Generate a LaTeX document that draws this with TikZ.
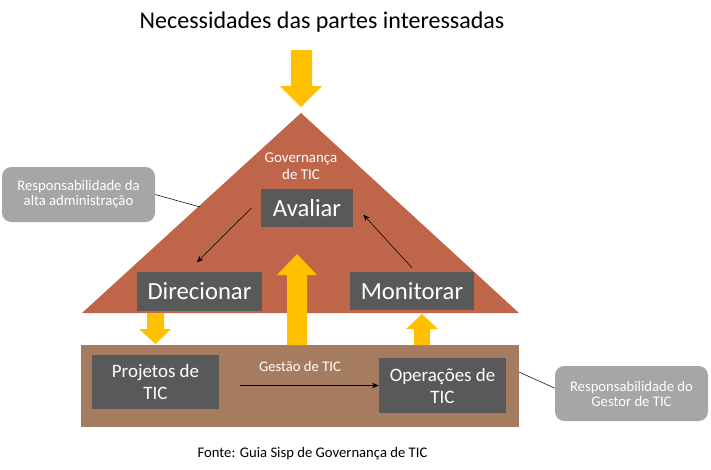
\documentclass[tikz,border=0pt]{standalone}
\usepackage{fontspec}
\setmainfont{Carlito}
\usetikzlibrary{arrows.meta}
\definecolor{telha}{RGB}{191,101,73}
\definecolor{marrom}{RGB}{166,124,96}
\definecolor{cinzaesc}{RGB}{89,89,89}
\definecolor{cinzaclaro}{RGB}{166,166,166}
\definecolor{amarelo}{RGB}{255,192,0}
\begin{document}
\begin{tikzpicture}[x=0.75pt,y=-0.75pt,>={Stealth[length=5pt,width=4pt]},
  caixa/.style={fill=cinzaesc,text=white,inner sep=0pt,align=center},
  balao/.style={fill=cinzaclaro,text=white,rounded corners=7pt,inner sep=0pt,align=center,
    minimum width=114.75pt,minimum height=41.25pt,font=\fontsize{11}{11.25}\selectfont},
  seta/.style={fill=amarelo}]
\useasboundingbox (0,0) rectangle (711,469);
\fill[telha] (82,313)--(301,113)--(519,313)--cycle;\fill[marrom] (81,345) rectangle (519,427);
% setas amarelas
\fill[seta] (291,50)--(312,50)--(312,86)--(322,86)--(301,107)--(280,86)--(291,86)--cycle;
\fill[seta] (147,313)--(164,313)--(164,329)--(171,329)--(155.5,344)--(139,329)--(147,329)--cycle;
\fill[seta] (287,345)--(307,345)--(307,275)--(317,275)--(297,254)--(277,275)--(287,275)--cycle;
\fill[seta] (414,345)--(430,345)--(430,329)--(438,329)--(422,314)--(406,329)--(414,329)--cycle;
\node[font=\fontsize{18}{21}\selectfont] (titulo) at (322,22){Necessidades das partes interessadas};
\node[text=white,align=center,font=\fontsize{11.2}{12.5}\selectfont] (gov) at (301,166){Governança\\de TIC};
\node[text=white,font=\fontsize{11}{12.5}\selectfont] (gest) at (300,366){Gestão de TIC};
\node[caixa,minimum width=69pt,minimum height=28.5pt,font=\fontsize{18.5}{20}\selectfont] (av) at (307,208){Avaliar};
\node[caixa,minimum width=93.75pt,minimum height=29.25pt,font=\fontsize{18.5}{20}\selectfont] (dir) at (199.5,291.5){Direcionar};
\node[caixa,minimum width=93pt,minimum height=28.5pt,font=\fontsize{18.5}{20}\selectfont] (mon) at (412,291){Monitorar};
\node[caixa,minimum width=95.25pt,minimum height=40.5pt,font=\fontsize{14.2}{16.5}\selectfont] (proj) at (155.5,382){Projetos de\\TIC};
\node[caixa,minimum width=95.25pt,minimum height=41.25pt,font=\fontsize{14.2}{16.5}\selectfont] (op) at (442.5,385.5){Operações de\\TIC};
\node[balao] (resp1) at (78.5,194.5){Responsabilidade da\\alta administração};
\node[balao] (resp2) at (631.5,393.5){Responsabilidade do\\Gestor de TIC};
\node[font=\fontsize{11}{12.5}\selectfont] (fonte) at (312.5,454){Fonte: Guia Sisp de Governança de TIC};
\coordinate (ladoesq) at (200,207);\coordinate (ladodir) at (519,372);
\draw[->] ([xshift=-7pt]av.west)--([xshift=-2pt,yshift=7pt]dir.north);
\draw[->] ([yshift=3pt]mon.north)--([xshift=7.5pt,yshift=-5pt]av.east);
\draw[->] ([xshift=-104pt]op.west)--(op.west);
\draw (resp1.east)--(ladoesq);\draw (ladodir)--([yshift=4pt]resp2.west);
\end{tikzpicture}
\end{document}
